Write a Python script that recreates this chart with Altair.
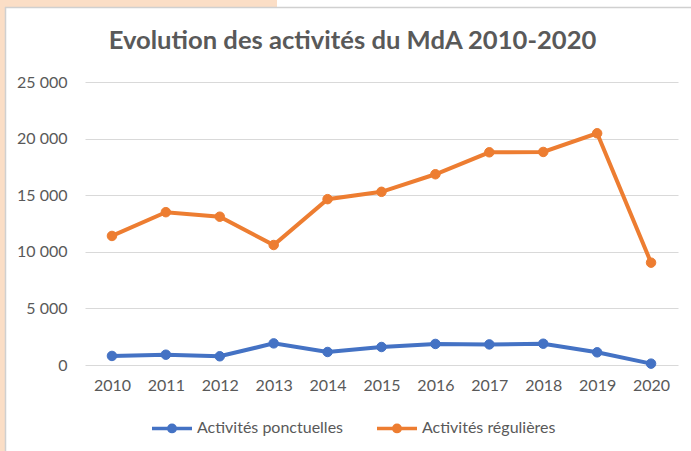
import altair as alt
import pandas as pd

years = ["2010", "2011", "2012", "2013", "2014", "2015", "2016", "2017", "2018", "2019", "2020"]
ponctuelles = [800, 910, 770, 1910, 1150, 1590, 1860, 1820, 1880, 1120, 120]
regulieres = [11400, 13500, 13100, 10600, 14650, 15300, 16850, 18790, 18820, 20470, 9040]
series_names = ["Activités ponctuelles", "Activités régulières"]
series_colors = ["#4472C4", "#ED7D31"]
y_ticks = [0, 5000, 10000, 15000, 20000, 25000]

rows = []
for y, v in zip(years, ponctuelles):
    rows.append({"Année": y, "Valeur": v, "Série": series_names[0]})
for y, v in zip(years, regulieres):
    rows.append({"Année": y, "Valeur": v, "Série": series_names[1]})
df = pd.DataFrame(rows)

FONT = "Lato"
TXT = "#595959"
W, H = 593, 283
PAD_L, PAD_T = 85, 82

# line segment with a dot (stroked rings) to mimic Excel's line+marker legend key
legend_path = ("M-1,0H1"
               "M-0.16,0A0.16,0.16,0,1,1,0.16,0A0.16,0.16,0,1,1,-0.16,0Z"
               "M-0.06,0A0.06,0.06,0,1,1,0.06,0A0.06,0.06,0,1,1,-0.06,0Z")

x_enc = alt.X("Année:O", sort=years,
              scale=alt.Scale(type="point", padding=0.5),
              axis=alt.Axis(title=None, labelAngle=0, domain=False, ticks=False,
                            labelPadding=12, labelFontSize=16, labelColor=TXT,
                            labelFont=FONT))
y_enc = alt.Y("Valeur:Q",
              scale=alt.Scale(domain=[0, 25000], nice=False),
              axis=alt.Axis(title=None, values=y_ticks, domain=False, ticks=False,
                            labelPadding=18, labelFontSize=16, labelColor=TXT,
                            labelFont=FONT, gridColor="#D9D9D9", gridWidth=1,
                            labelExpr="replace(format(datum.value, ','), ',', ' ')"))
cscale = alt.Scale(domain=series_names, range=series_colors)

lines = alt.Chart(df).mark_line(strokeWidth=4).encode(
    x=x_enc, y=y_enc,
    color=alt.Color("Série:N", sort=series_names, scale=cscale,
                    legend=alt.Legend(
                        title=None, orient="none", direction="horizontal",
                        legendX=65, legendY=324,
                        symbolType=legend_path, symbolSize=1600,
                        symbolStrokeWidth=3.5, labelFontSize=16, labelColor=TXT,
                        labelFont=FONT, labelOffset=3, columnPadding=26)),
)

points = alt.Chart(df).mark_point(filled=True, size=90, opacity=1, strokeWidth=1).encode(
    x=x_enc, y=y_enc,
    fill=alt.Fill("Série:N", sort=series_names, scale=cscale, legend=None),
    stroke=alt.Stroke("Série:N", sort=series_names, scale=cscale, legend=None),
)

# decorative frame around the chart (peach page background + grey chart border)
frame_df = pd.DataFrame({"k": [0]})
peach = "#FBDEC6"
left_strip = alt.Chart(frame_df).mark_rect(color=peach).encode(
    x=alt.value(-PAD_L), x2=alt.value(-PAD_L + 5),
    y=alt.value(-PAD_T), y2=alt.value(451 - PAD_T))
top_strip = alt.Chart(frame_df).mark_rect(color=peach).encode(
    x=alt.value(-PAD_L), x2=alt.value(277 - PAD_L),
    y=alt.value(-PAD_T), y2=alt.value(-PAD_T + 7))
border_v = alt.Chart(frame_df).mark_rule(color="#D0D0D0", strokeWidth=1.5).encode(
    x=alt.value(-PAD_L + 5.5), y=alt.value(-PAD_T + 7), y2=alt.value(451 - PAD_T))
border_h = alt.Chart(frame_df).mark_rule(color="#D0D0D0", strokeWidth=1.5).encode(
    x=alt.value(-PAD_L + 5), x2=alt.value(691 - PAD_L), y=alt.value(-PAD_T + 7.5))

chart = alt.layer(left_strip, top_strip, border_v, border_h, lines, points).properties(
    width=W, height=H,
    title=alt.TitleParams("Evolution des activités du MdA 2010-2020",
                          font=FONT, fontSize=25.6, fontWeight="bold", color=TXT,
                          anchor="middle", dx=-29, offset=-55, frame="group"),
    autosize=alt.AutoSizeParams(type="none"),
    padding={"left": PAD_L, "top": PAD_T, "right": 691 - PAD_L - W, "bottom": 451 - PAD_T - H},
    background="white",
).configure_view(stroke=None)

chart.save("out.html", embed_options={"renderer": "svg", "actions": False})
